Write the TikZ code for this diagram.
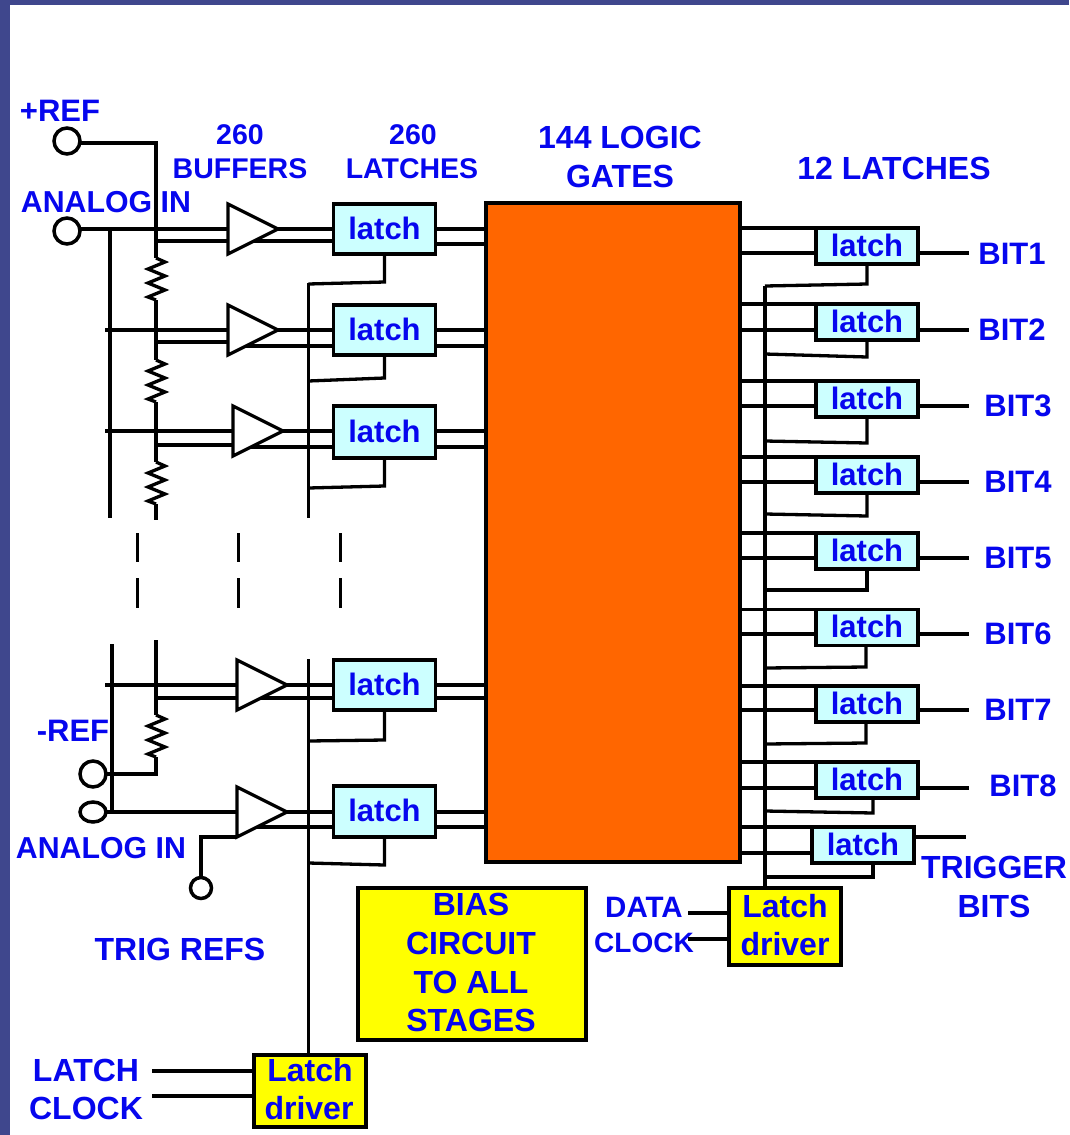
\documentclass[tikz,border=0pt]{standalone}
\usepackage{fontspec}
\setmainfont{Liberation Sans}
\usetikzlibrary{shapes.geometric}
\definecolor{slidebg}{HTML}{3F478D}
\definecolor{txtblue}{HTML}{0606EE}
\definecolor{latchfill}{HTML}{CCFFFF}
\definecolor{logicfill}{HTML}{FF6600}
\definecolor{drvfill}{HTML}{FFFF00}
\pgfdeclarelayer{bg}\pgfdeclarelayer{wires}
\pgfsetlayers{bg,wires,main}
\newcommand{\lt}{\raisebox{1.5pt}{latch}\hspace{2.5pt}}
\tikzset{
  wire/.style={draw=black,line width=3.3pt},
  lbl/.style={font=\bfseries\fontsize{#1}{#1}\selectfont,text=txtblue,inner sep=0pt,outer sep=0pt,text height=.716*#1 pt,text depth=0pt,anchor=center},
  lbl/.default=32,
  latchbox/.style={draw=black,line width=3.3pt,fill=latchfill,minimum width=102pt,inner sep=0pt,outer sep=0pt,
     font=\bfseries\fontsize{31}{31}\selectfont,text=txtblue},
  buffer/.style={isosceles triangle,isosceles triangle stretches,shape border rotate=0,draw=black,fill=white,line width=3.3pt,
     minimum width=50pt,minimum height=50pt,inner sep=0pt,outer sep=0pt,anchor=lower side},
  terminal/.style={circle,draw=black,line width=3.5pt,fill=white,inner sep=0pt,outer sep=0pt,minimum size=26pt},
  yellowbox/.style={draw=black,line width=3.3pt,fill=drvfill,inner sep=0pt,outer sep=0pt},
  gapdash/.style={draw=black,line width=3pt}
}
\newcommand{\zigzag}[1]{\draw[wire,line join=miter] (#1) -- ++(9,4) -- ++(-17,7) -- ++(17,7) -- ++(-17,7) -- ++(17,7) -- ++(-17,7) -- ++(8,3)}
\begin{document}
\begin{tikzpicture}[x=1pt,y=-1pt]
\useasboundingbox (0,0) rectangle (1069,1135);
\begin{pgfonlayer}{bg}
  \fill[slidebg] (0,0) rectangle (1069,1135);
  \fill[white] (10,5) rectangle (1069,1135);
\end{pgfonlayer}

% central blocks
\node[draw=black,line width=3.3pt,fill=logicfill,minimum width=254pt,minimum height=659pt,inner sep=0pt,outer sep=0pt] (logic) at (613,532.5) {};
\node[yellowbox,minimum width=228pt,minimum height=152pt] (bias) at (472,964) {};
\node[lbl] (biasa) at (471,904) {BIAS};
\node[lbl] (biasb) at (471,943) {CIRCUIT};
\node[lbl] (biasc) at (471,982) {TO ALL};
\node[lbl] (biasd) at (471,1020) {STAGES};

% terminals
\node[terminal] (refp) at (67,141) {};
\node[terminal] (ainA) at (67,231) {};
\node[terminal] (refn) at (93,774) {};
\node[terminal,ellipse,minimum width=26pt,minimum height=20pt] (ainB) at (93,812) {};
\node[terminal,minimum size=21pt] (trig) at (201,888) {};

% left stages: id / buffer x / y / second input y / second output y / latch centre y / latch height / latch second out y / ctrl y at latch / ctrl y at bus
\foreach \id/\bx/\by/\yi/\yo/\ly/\lh/\lo/\ca/\cb in {
  1/228/229/241/241/229/50/244/282/284,
  2/228/330/342/346/330/50/346/378/381,
  3/233/431/445/447/432/52/447/486/488,
  4/237/685/698/698/685/50/698/740/741,
  5/237/812/837/827/811.5/51/827/865/863}{
  \node[buffer] (b\id) at (\bx,\by) {};
  \node[latchbox,minimum height=\lh pt] (l\id) at (384.5,\ly) {\lt};
  \coordinate (c\id) at (308.5,\cb);
  \begin{pgfonlayer}{wires}
    \draw[wire] (b\id.apex) -- (l\id.west |- b\id.apex);
    \draw[wire] (b\id.center |- 0,\yo) -- (l\id.west |- 0,\yo);
    \draw[wire] (l\id.east |- b\id.apex) -- (logic.west |- b\id.apex);
    \draw[wire] (l\id.east |- 0,\lo) -- (logic.west |- 0,\lo);
    \draw[wire] (l\id.south) -- (384.5,\ca) -- (c\id);
  \end{pgfonlayer}
}
\begin{pgfonlayer}{wires}
  % signal inputs
  \draw[wire] (ainA.east) ++(0,-2) -- (b1.lower side);
  \draw[wire] (105,330) -- (b2.lower side);
  \draw[wire] (105,431) -- (b3.lower side);
  \draw[wire] (105,685) -- (b4.lower side);
  \draw[wire] (ainB.east) -- (b5.lower side);
  \draw[wire] (110,229) -- (110,518);
  \draw[wire] (112,644) -- (112,812);
  % reference taps
  \draw[wire] (156,241) -- (b1.west |- 156,241);
  \draw[wire] (156,342) -- (b2.west |- 156,342);
  \draw[wire] (156,445) -- (b3.west |- 156,445);
  \draw[wire] (156,698) -- (b4.west |- 156,698);
  % trig ref
  \draw[wire] (trig.north) -- (201,837) -- (b5.right corner);
  % latch clock bus
  \draw[wire] (308.5,283) -- (308.5,518);
  \draw[wire] (308.5,659) -- (308.5,1055);
  % reference ladder
  \coordinate (r1) at (156,258);
  \coordinate (r2) at (156,360);
  \coordinate (r3) at (156,462);
  \coordinate (r4) at (156,715);
  \draw[wire] (refp.east) ++(0,2) -- (156,143) -- (r1);
  \zigzag{r1} coordinate (r1e);
  \draw[wire] (r1e) -- (r2);
  \zigzag{r2} coordinate (r2e);
  \draw[wire] (r2e) -- (r3);
  \zigzag{r3} coordinate (r3e);
  \draw[wire] (r3e) -- (156,520);
  \draw[wire] (156,640) -- (r4);
  \zigzag{r4} coordinate (r4e);
  \draw[wire] (r4e) -- (156,774) -- (refn.east);
\end{pgfonlayer}

% dashes
\foreach \x in {137.5,238.5,340.5}{
  \draw[gapdash] (\x,533) -- (\x,562);
  \draw[gapdash] (\x,578) -- (\x,608);
}

% right latches: id / centre y / second y / ctrl x / ctrl y at latch / ctrl y at bus
\foreach \id/\cy/\sy/\cx/\ca/\cb in {
  1/246/253/867/284/286,
  2/322/330/867/357/354,
  3/399/406/867/443/441,
  4/475/482/867/516/514,
  5/551/558/867/590/590,
  6/627.5/634/866/667/668,
  7/704/710/866/743/744,
  8/780/788/873/813/811}{
  \node[latchbox,minimum height=36pt] (q\id) at (867,\cy) {\lt};
  \coordinate (d\id) at (765,\cb);
  \begin{pgfonlayer}{wires}
    \draw[wire] (q\id.north west) -- (logic.east |- q\id.north west);
    \draw[wire] (q\id.west |- 0,\sy) -- (logic.east |- 0,\sy);
    \draw[wire] (q\id.south -| \cx,0) -- (\cx,\ca) -- (d\id);
    \draw[wire] (q\id.east |- 0,\sy) -- (969,\sy);
  \end{pgfonlayer}
}
\node[latchbox,minimum height=36pt] (qt) at (863,845) {\lt};
\coordinate (dt) at (765,877);
\begin{pgfonlayer}{wires}
  \draw[wire] (qt.north west) -- (logic.east |- qt.north west);
  \draw[wire] (qt.west |- 0,853) -- (logic.east |- 0,853);
  \draw[wire] (873,863) -- (873,877) -- (dt);
  \draw[wire] (qt.east |- 0,837) -- (966,837);
\end{pgfonlayer}

% latch drivers
\node[yellowbox,minimum width=112pt,minimum height=72pt] (drvL) at (310,1091) {};
\node[yellowbox,minimum width=112pt,minimum height=77pt] (drvR) at (785,926.5) {};
\coordinate (clkLa) at (152,1071);
\coordinate (clkLb) at (152,1096);
\coordinate (clkRa) at (688,913);
\coordinate (clkRb) at (688,939);
\begin{pgfonlayer}{wires}
  \draw[wire] (clkLa) -- (drvL.west |- clkLa);
  \draw[wire] (clkLb) -- (drvL.west |- clkLb);
  \draw[wire] (clkRa) -- (drvR.west |- clkRa);
  \draw[wire] (clkRb) -- (drvR.west |- clkRb);
  \draw[wire] (765,286) -- (drvR.north -| 765,0);
\end{pgfonlayer}

% labels
\node[lbl=31] (tpref) at (60,110) {+REF};
\node[lbl=30.3] (tainA) at (106,202) {ANALOG IN};
\node[lbl=28.5] (t260a) at (240,134) {260};
\node[lbl=28.5] (tbuf) at (240,168) {BUFFERS};
\node[lbl=28.5] (t260b) at (413,134) {260};
\node[lbl=28.5] (tlat) at (412,168) {LATCHES};
\node[lbl] (tg1) at (620,137) {144 LOGIC};
\node[lbl] (tg2) at (620,176) {GATES};
\node[lbl] (t12) at (894,168) {12 LATCHES};
\node[lbl=31] (tnref) at (73,730) {-REF};
\node[lbl=30.3] (tainB) at (101,848) {ANALOG IN};
\node[lbl] (ttrig) at (180,949) {TRIG REFS};
\node[lbl] (tlc1) at (86,1070) {LATCH};
\node[lbl] (tlc2) at (86,1108) {CLOCK};
\node[lbl] (tdL1) at (310,1070) {Latch};
\node[lbl] (tdL2) at (309,1108) {driver};
\node[lbl] (tdR1) at (785,906) {Latch};
\node[lbl] (tdR2) at (785,944) {driver};
\node[lbl=29.5] (tdc1) at (644,907) {DATA};
\node[lbl=28] (tdc2) at (644,942) {CLOCK};
\node[lbl=31] (tb1) at (1012,253) {BIT1};
\node[lbl=31] (tb2) at (1012,329) {BIT2};
\node[lbl=31] (tb3) at (1018,405) {BIT3};
\node[lbl=31] (tb4) at (1018,481) {BIT4};
\node[lbl=31] (tb5) at (1018,557) {BIT5};
\node[lbl=31] (tb6) at (1018,633) {BIT6};
\node[lbl=31] (tb7) at (1018,709) {BIT7};
\node[lbl=31] (tb8) at (1023,785) {BIT8};
\node[lbl] (ttr1) at (994,867) {TRIGGER};
\node[lbl] (ttr2) at (994,906) {BITS};
\end{tikzpicture}
\end{document}
